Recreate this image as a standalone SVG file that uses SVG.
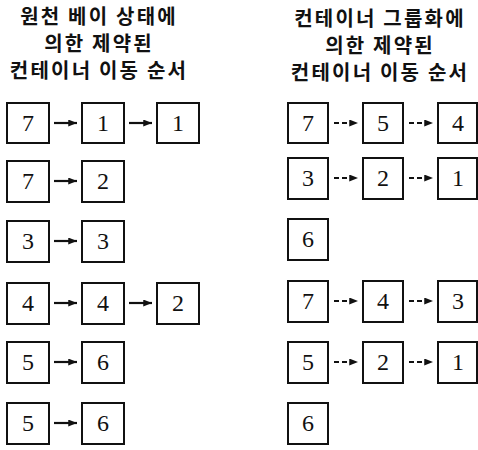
<svg xmlns="http://www.w3.org/2000/svg" width="478" height="450" viewBox="0 0 478 450">
<style>
.t{font-family:"Noto Sans CJK KR","Noto Sans",sans-serif;font-size:20px;font-weight:bold;letter-spacing:2.2px;text-anchor:middle;fill:#111}
.b{fill:#fff;stroke:#111;stroke-width:2}
.n{font-family:"Liberation Serif","Times New Roman",serif;font-size:24px;text-anchor:middle;fill:#111}
.s{stroke:#111;stroke-width:2.2;fill:none}
.d{stroke:#111;stroke-width:2.2;fill:none;stroke-dasharray:5 3}
</style>
<defs>
<marker id="ah" viewBox="0 0 10 8" refX="10" refY="4" markerWidth="9" markerHeight="7" markerUnits="userSpaceOnUse" orient="auto"><path d="M0,0 L10,4 L0,8 Z" fill="#111"/></marker>
</defs>
<g id="titles">
<text class="t" x="99" y="24">원천 베이 상태에</text>
<text class="t" x="99" y="51">의한 제약된</text>
<text class="t" x="99" y="78">컨테이너 이동 순서</text>
<text class="t" x="380" y="26">컨테이너 그룹화에</text>
<text class="t" x="380" y="53">의한 제약된</text>
<text class="t" x="380" y="80">컨테이너 이동 순서</text>
</g>
<g id="connectors">
<line class="s" x1="54" y1="123" x2="77" y2="123" marker-end="url(#ah)"/>
<line class="s" x1="129" y1="123" x2="152" y2="123" marker-end="url(#ah)"/>
<line class="s" x1="54" y1="181" x2="77" y2="181" marker-end="url(#ah)"/>
<line class="s" x1="54" y1="241" x2="77" y2="241" marker-end="url(#ah)"/>
<line class="s" x1="54" y1="303" x2="77" y2="303" marker-end="url(#ah)"/>
<line class="s" x1="129" y1="303" x2="152" y2="303" marker-end="url(#ah)"/>
<line class="s" x1="54" y1="362" x2="77" y2="362" marker-end="url(#ah)"/>
<line class="s" x1="54" y1="423" x2="77" y2="423" marker-end="url(#ah)"/>
<line class="d" x1="334" y1="123" x2="358" y2="123" marker-end="url(#ah)"/>
<line class="d" x1="409" y1="123" x2="433" y2="123" marker-end="url(#ah)"/>
<line class="d" x1="334" y1="178" x2="358" y2="178" marker-end="url(#ah)"/>
<line class="d" x1="409" y1="178" x2="433" y2="178" marker-end="url(#ah)"/>
<line class="d" x1="334" y1="301" x2="358" y2="301" marker-end="url(#ah)"/>
<line class="d" x1="409" y1="301" x2="433" y2="301" marker-end="url(#ah)"/>
<line class="d" x1="334" y1="362" x2="358" y2="362" marker-end="url(#ah)"/>
<line class="d" x1="409" y1="362" x2="433" y2="362" marker-end="url(#ah)"/>
</g>
<g id="L1a"><rect class="b" x="7" y="103" width="42" height="40"/><text class="n" x="28" y="131">7</text></g>
<g id="L1b"><rect class="b" x="82" y="103" width="42" height="40"/><text class="n" x="103" y="131">1</text></g>
<g id="L1c"><rect class="b" x="157" y="103" width="42" height="40"/><text class="n" x="178" y="131">1</text></g>
<g id="L2a"><rect class="b" x="7" y="161" width="42" height="41"/><text class="n" x="28" y="189">7</text></g>
<g id="L2b"><rect class="b" x="82" y="161" width="42" height="41"/><text class="n" x="103" y="189">2</text></g>
<g id="L3a"><rect class="b" x="7" y="221" width="42" height="41"/><text class="n" x="28" y="249">3</text></g>
<g id="L3b"><rect class="b" x="82" y="221" width="42" height="41"/><text class="n" x="103" y="249">3</text></g>
<g id="L4a"><rect class="b" x="7" y="283" width="42" height="41"/><text class="n" x="28" y="311">4</text></g>
<g id="L4b"><rect class="b" x="82" y="283" width="42" height="41"/><text class="n" x="103" y="311">4</text></g>
<g id="L4c"><rect class="b" x="157" y="283" width="42" height="41"/><text class="n" x="178" y="311">2</text></g>
<g id="L5a"><rect class="b" x="7" y="342" width="42" height="41"/><text class="n" x="28" y="370">5</text></g>
<g id="L5b"><rect class="b" x="82" y="342" width="42" height="41"/><text class="n" x="103" y="370">6</text></g>
<g id="L6a"><rect class="b" x="7" y="403" width="42" height="41"/><text class="n" x="28" y="431">5</text></g>
<g id="L6b"><rect class="b" x="82" y="403" width="42" height="41"/><text class="n" x="103" y="431">6</text></g>
<g id="R1a"><rect class="b" x="288" y="103" width="40" height="40"/><text class="n" x="308" y="131">7</text></g>
<g id="R1b"><rect class="b" x="363" y="103" width="40" height="40"/><text class="n" x="383" y="131">5</text></g>
<g id="R1c"><rect class="b" x="438" y="103" width="39" height="40"/><text class="n" x="458" y="131">4</text></g>
<g id="R2a"><rect class="b" x="288" y="158" width="40" height="41"/><text class="n" x="308" y="186">3</text></g>
<g id="R2b"><rect class="b" x="363" y="158" width="40" height="41"/><text class="n" x="383" y="186">2</text></g>
<g id="R2c"><rect class="b" x="438" y="158" width="39" height="41"/><text class="n" x="458" y="186">1</text></g>
<g id="R3a"><rect class="b" x="288" y="219" width="40" height="41"/><text class="n" x="308" y="247">6</text></g>
<g id="R4a"><rect class="b" x="288" y="281" width="40" height="41"/><text class="n" x="308" y="309">7</text></g>
<g id="R4b"><rect class="b" x="363" y="281" width="40" height="41"/><text class="n" x="383" y="309">4</text></g>
<g id="R4c"><rect class="b" x="438" y="281" width="39" height="41"/><text class="n" x="458" y="309">3</text></g>
<g id="R5a"><rect class="b" x="288" y="342" width="40" height="41"/><text class="n" x="308" y="370">5</text></g>
<g id="R5b"><rect class="b" x="363" y="342" width="40" height="41"/><text class="n" x="383" y="370">2</text></g>
<g id="R5c"><rect class="b" x="438" y="342" width="39" height="41"/><text class="n" x="458" y="370">1</text></g>
<g id="R6a"><rect class="b" x="288" y="403" width="40" height="41"/><text class="n" x="308" y="431">6</text></g>
</svg>
